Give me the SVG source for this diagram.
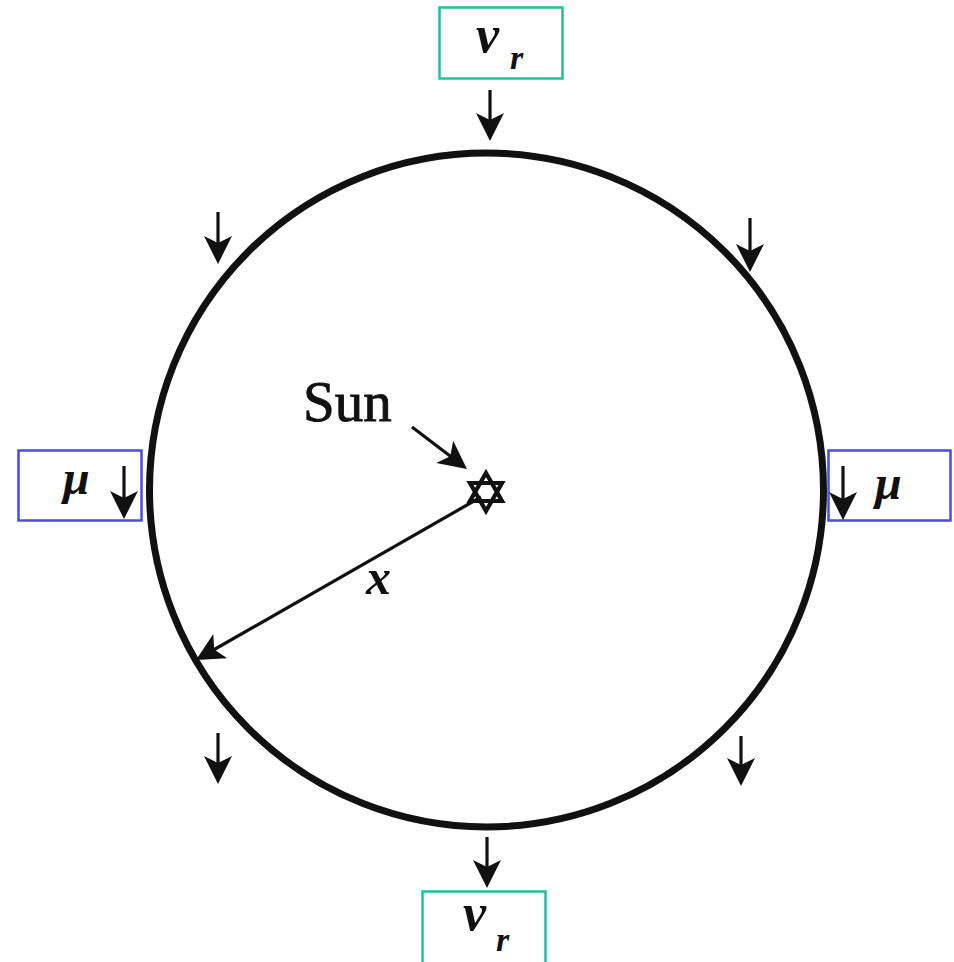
<svg xmlns="http://www.w3.org/2000/svg" width="954" height="962" viewBox="0 0 954 962">
<defs>
<style>
.box-vr{fill:none;stroke:#20c09a;stroke-width:2.5}
.box-mu{fill:none;stroke:#4a4ae8;stroke-width:2.5}
.math{font-family:"Liberation Serif","DejaVu Serif",serif;font-style:italic;font-weight:bold;fill:#111}
.label{font-family:"Liberation Serif","DejaVu Serif",serif;fill:#111;stroke:#111;stroke-width:0.9}
.arrow{stroke:#111;stroke-width:3.2;fill:none;marker-end:url(#ah)}
</style>
<marker id="ah" markerUnits="userSpaceOnUse" markerWidth="40" markerHeight="32" viewBox="-24 -16 34 32" refX="0" refY="0" orient="auto">
<path d="M8,0 L-20,-14 L-13,0 L-20,14 Z" fill="#111"/>
</marker>
</defs>
<rect width="954" height="962" fill="#ffffff"/>

<g id="orbit">
<circle cx="486.5" cy="490" r="337" fill="none" stroke="#111" stroke-width="7"/>
</g>

<g id="sun">
<text class="label" x="303" y="421" font-size="57">Sun</text>
<path d="M486,473 L502,501 L470,501 Z M486,511 L470,483 L502,483 Z" fill="none" stroke="#111" stroke-width="4.2" stroke-linejoin="miter"/>
</g>

<g id="top-vr">
<rect class="box-vr" x="439.5" y="7.5" width="123" height="71"/>
<text class="math" x="476" y="52" font-size="52">v</text>
<text class="math" x="510" y="69" font-size="34">r</text>
</g>

<g id="bottom-vr">
<rect class="box-vr" x="422.5" y="891.5" width="123" height="75"/>
<text class="math" x="463" y="930" font-size="52">v</text>
<text class="math" x="496" y="951" font-size="34">r</text>
</g>

<g id="left-mu">
<rect class="box-mu" x="18.5" y="450.5" width="123" height="70"/>
<text class="math" x="63" y="494" font-size="48">μ</text>
</g>

<g id="right-mu">
<rect class="box-mu" x="828.5" y="450.5" width="122" height="70"/>
<text class="math" x="875" y="499" font-size="48">μ</text>
</g>

<g id="x-label">
<text class="math" x="366" y="594" font-size="50">x</text>
</g>

<g id="connectors">
<line class="arrow" x1="490" y1="90" x2="490" y2="133"/>
<line class="arrow" x1="487" y1="837" x2="487" y2="880"/>
<line class="arrow" x1="124" y1="466" x2="124" y2="511"/>
<line class="arrow" x1="843" y1="466" x2="843" y2="512"/>
<line class="arrow" x1="218" y1="212" x2="218" y2="256"/>
<line class="arrow" x1="750" y1="218" x2="750" y2="264"/>
<line class="arrow" x1="218" y1="733" x2="218" y2="776"/>
<line class="arrow" x1="741" y1="736" x2="741" y2="778"/>
<line class="arrow" x1="412" y1="427" x2="460.6" y2="464.1"/>
<line class="arrow" x1="481" y1="497" x2="202.9" y2="656"/>
</g>
</svg>
